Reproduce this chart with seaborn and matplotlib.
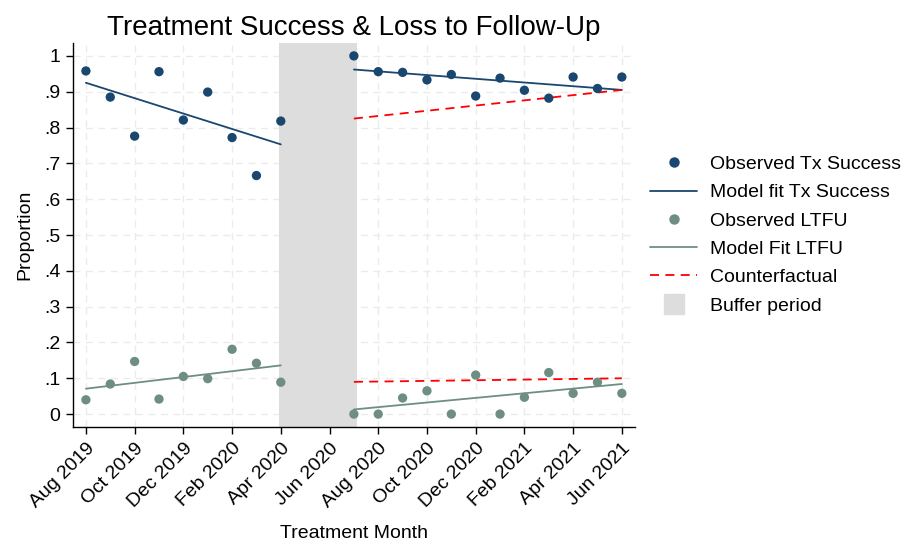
import numpy as np
import pandas as pd
import matplotlib
matplotlib.use("Agg")
import matplotlib.pyplot as plt
import seaborn as sns
from matplotlib.lines import Line2D

# month labels, one per position 0..22 (Aug 2019 .. Jun 2021)
months = ["Aug 2019", "Sep 2019", "Oct 2019", "Nov 2019", "Dec 2019", "Jan 2020",
          "Feb 2020", "Mar 2020", "Apr 2020", "May 2020", "Jun 2020", "Jul 2020",
          "Aug 2020", "Sep 2020", "Oct 2020", "Nov 2020", "Dec 2020", "Jan 2021",
          "Feb 2021", "Mar 2021", "Apr 2021", "May 2021", "Jun 2021"]
pre_idx = [0, 1, 2, 3, 4, 5, 6, 7, 8]
post_idx = [11, 12, 13, 14, 15, 16, 17, 18, 19, 20, 21, 22]

# observed proportions
tx_pre = [0.958, 0.885, 0.776, 0.956, 0.821, 0.899, 0.772, 0.666, 0.818]
tx_post = [1.0, 0.956, 0.954, 0.933, 0.948, 0.888, 0.938, 0.904, 0.882, 0.941, 0.909, 0.941]
ltfu_pre = [0.040, 0.084, 0.147, 0.042, 0.105, 0.099, 0.181, 0.142, 0.089]
ltfu_post = [0.0, 0.0, 0.045, 0.065, 0.0, 0.109, 0.0, 0.047, 0.116, 0.058, 0.089, 0.058]

# fitted lines (segment end points)
fit_x_pre = [0, 8]
fit_x_post = [11, 22]
tx_fit_pre = [0.925, 0.753]
tx_fit_post = [0.962, 0.905]
tx_cf = [0.825, 0.905]
ltfu_fit_pre = [0.071, 0.136]
ltfu_fit_post = [0.013, 0.084]
ltfu_cf = [0.090, 0.100]

buffer_span = [7.93, 11.12]

tx_col = "#1a476f"
ltfu_col = "#6e8e84"
buf_col = "#dddddd"

sns.set_style("white")
plt.rcParams["font.family"] = ["Liberation Sans", "DejaVu Sans"]
plt.rcParams["text.color"] = "black"
plt.rcParams["axes.labelcolor"] = "black"
plt.rcParams["xtick.color"] = "black"
plt.rcParams["ytick.color"] = "black"

fig = plt.figure(figsize=(9.03, 5.41), dpi=100)
ax = fig.add_axes([73 / 903, 1 - 427 / 541, (635 - 73) / 903, (427 - 43) / 541])

ax.grid(True, color="#ebebeb", linestyle=(0, (5, 4)), linewidth=1.0)
ax.set_axisbelow(True)
ax.axvspan(buffer_span[0], buffer_span[1], color=buf_col, lw=0, zorder=1.5)

obs = pd.DataFrame({"x": pre_idx + post_idx, "tx": tx_pre + tx_post, "ltfu": ltfu_pre + ltfu_post})
sns.scatterplot(data=obs, x="x", y="tx", color=tx_col, s=45, edgecolor="none", ax=ax, zorder=3)
sns.scatterplot(data=obs, x="x", y="ltfu", color=ltfu_col, s=45, edgecolor="none", ax=ax, zorder=3)

for xs, ys, c in [(fit_x_pre, tx_fit_pre, tx_col), (fit_x_post, tx_fit_post, tx_col),
                  (fit_x_pre, ltfu_fit_pre, ltfu_col), (fit_x_post, ltfu_fit_post, ltfu_col)]:
    sns.lineplot(x=xs, y=ys, color=c, lw=1.3, ax=ax, zorder=2.5)
for ys in [tx_cf, ltfu_cf]:
    sns.lineplot(x=fit_x_post, y=ys, color="red", lw=1.3, ax=ax, zorder=2.5)
    ax.lines[-1].set_dashes((5, 3.5))

ax.set_xlim(-0.53, 22.54)
ax.set_ylim(-0.036, 1.036)
ax.set_xticks(range(0, 23, 2))
ax.set_xticklabels(months[::2], rotation=45, ha="right", rotation_mode="anchor", fontsize=14)
yt = [0, 0.1, 0.2, 0.3, 0.4, 0.5, 0.6, 0.7, 0.8, 0.9, 1.0]
ax.set_yticks(yt)
ax.set_yticklabels(["0", ".1", ".2", ".3", ".4", ".5", ".6", ".7", ".8", ".9", "1"], fontsize=14)
ax.tick_params(axis="both", direction="out", length=5, width=1, color="black",
               bottom=True, left=True, pad=4)
for s in ["top", "right"]:
    ax.spines[s].set_visible(False)
for s in ["left", "bottom"]:
    ax.spines[s].set_color("black")
    ax.spines[s].set_linewidth(1)

ax.set_xlabel("Treatment Month", fontsize=14, labelpad=10)
ax.set_ylabel("Proportion", fontsize=14, labelpad=8)
ax.set_title("Treatment Success & Loss to Follow-Up", fontsize=20, pad=6)

handles = [
    Line2D([], [], marker="o", ls="", color=tx_col, markersize=6.5),
    Line2D([], [], color=tx_col, lw=1.3),
    Line2D([], [], marker="o", ls="", color=ltfu_col, markersize=6.5),
    Line2D([], [], color=ltfu_col, lw=1.3),
    Line2D([], [], color="red", lw=1.3, dashes=(5, 3.5)),
    Line2D([], [], marker="s", ls="", color=buf_col, markersize=15),
]
labels = ["Observed Tx Success", "Model fit Tx Success", "Observed LTFU",
          "Model Fit LTFU", "Counterfactual", "Buffer period"]
ax.legend(handles, labels, loc="center left", bbox_to_anchor=(1.027, 0.5), frameon=False,
          fontsize=14, handlelength=2.4, handletextpad=0.7, labelspacing=0.55,
          borderaxespad=0, borderpad=0)

fig.savefig("out.png", dpi=100)
